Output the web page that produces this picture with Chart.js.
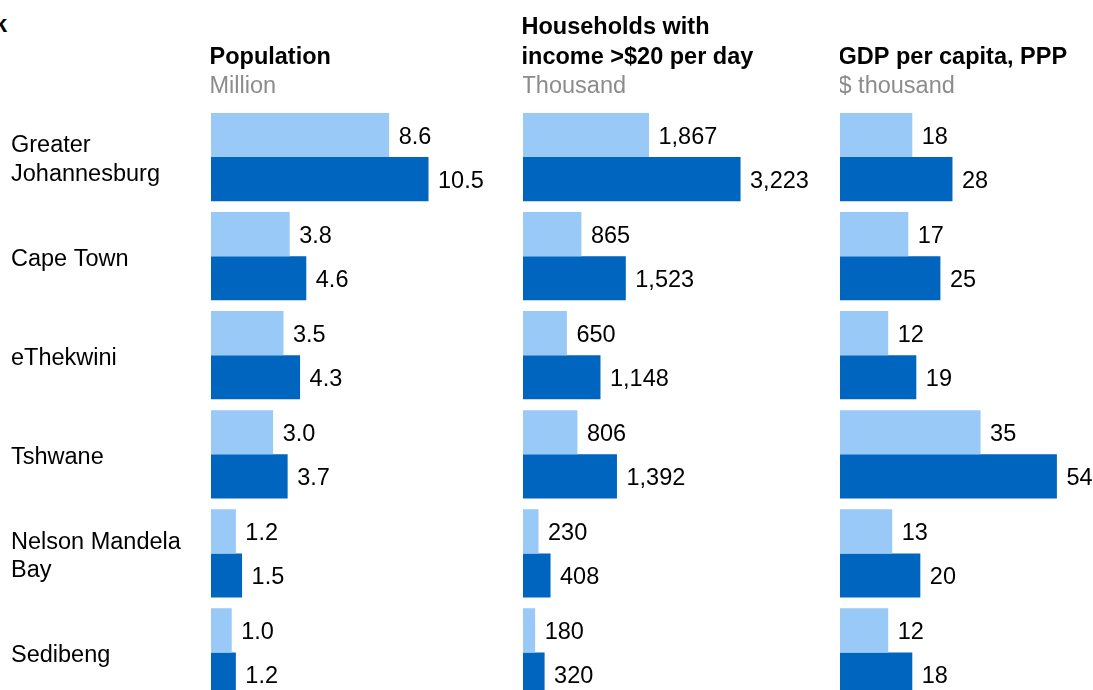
<!DOCTYPE html>
<html>
<head>
<meta charset="utf-8">
<script src="https://cdn.jsdelivr.net/npm/chart.js@4"></script>
<style>
    html, body { margin: 0; padding: 0; background: #fff; overflow: hidden; }
    body { width: 1093px; height: 690px; position: relative; }
    canvas { position: absolute; top: 0; }
    #corner { position: absolute; left: -6px; top: 11px; font: bold 23.5px "Liberation Sans", Arial, sans-serif; }
</style>
</head>
<body>
<div id="corner">k</div>
<canvas id="chart-pop" width="501" height="702" style="left:0px"></canvas>
<canvas id="chart-hh" width="310" height="702" style="left:523px"></canvas>
<canvas id="chart-gdp" width="253" height="702" style="left:840px"></canvas>
<script>
const cities = [
    ['Greater', 'Johannesburg'],
    'Cape Town',
    'eThekwini',
    'Tshwane',
    ['Nelson Mandela', 'Bay'],
    'Sedibeng',
];

const popEarlier = [8.6, 3.8, 3.5, 3.0, 1.2, 1.0];
const popLater = [10.5, 4.6, 4.3, 3.7, 1.5, 1.2];

const hhEarlier = [1867, 865, 650, 806, 230, 180];
const hhLater = [3223, 1523, 1148, 1392, 408, 320];

const gdpEarlier = [18, 17, 12, 35, 13, 12];
const gdpLater = [28, 25, 19, 54, 20, 18];

const lightBlue = '#99c9f7';
const darkBlue = '#0065bf';
const fontFamily = '"Liberation Sans", Arial, sans-serif';

// draws the value next to the end of each bar
const valueLabels = {
    id: 'valueLabels',
    afterDatasetsDraw(chart, args, opts) {
        const ctx = chart.ctx;
        ctx.save();
        ctx.font = '23.5px ' + fontFamily;
        ctx.fillStyle = '#000';
        ctx.textAlign = 'left';
        ctx.textBaseline = 'middle';
        chart.data.datasets.forEach((ds, i) => {
            chart.getDatasetMeta(i).data.forEach((bar, j) => {
                ctx.fillText(opts.format(ds.data[j]), bar.x + 9.5, bar.y + 2.5);
            });
        });
        ctx.restore();
    }
};

// panel heading: bold title lines plus grey unit line
const panelHeader = {
    id: 'panelHeader',
    afterDraw(chart, args, opts) {
        const ctx = chart.ctx;
        const x = chart.chartArea.left - 1.5;
        ctx.save();
        ctx.textAlign = 'left';
        ctx.textBaseline = 'alphabetic';
        ctx.font = 'bold 23.5px ' + fontFamily;
        ctx.fillStyle = '#000';
        let y = 63.5 - (opts.title.length - 1) * 30;
        opts.title.forEach(line => {
            ctx.fillText(line, x, y);
            y += 30;
        });
        ctx.font = '23.5px ' + fontFamily;
        ctx.fillStyle = '#8c8c8c';
        ctx.fillText(opts.unit, x, 92.5);
        ctx.restore();
    }
};

function makeConfig(earlier, later, max, title, unit, format, showCities, padRight) {
    return {
        type: 'bar',
        data: {
            labels: cities,
            datasets: [
                { label: 'Earlier', data: earlier, backgroundColor: lightBlue },
                { label: 'Later', data: later, backgroundColor: darkBlue },
            ]
        },
        options: {
            indexAxis: 'y',
            responsive: false,
            animation: false,
            devicePixelRatio: 1,
            datasets: {
                bar: { categoryPercentage: 0.89, barPercentage: 1.0 }
            },
            layout: {
                padding: { top: 107.5, bottom: 0, left: showCities ? 11 : 0, right: padRight }
            },
            scales: {
                x: {
                    display: false,
                    min: 0,
                    max: max
                },
                y: {
                    display: showCities,
                    grid: { display: false },
                    border: { display: false },
                    ticks: {
                        crossAlign: 'far',
                        padding: 0,
                        labelOffset: 3,
                        color: '#000',
                        font: { family: fontFamily, size: 23.5, lineHeight: 1.2 }
                    },
                    afterFit: scale => {
                        scale.paddingTop = 0;
                        scale.paddingBottom = 0;
                        if (showCities) {
                            scale.width = 200;
                        }
                    }
                }
            },
            plugins: {
                legend: { display: false },
                tooltip: { enabled: false },
                valueLabels: { format: format },
                panelHeader: { title: title, unit: unit }
            }
        },
        plugins: [valueLabels, panelHeader]
    };
}

let popChart = new Chart(
    document.getElementById('chart-pop'),
    makeConfig(popEarlier, popLater, 14, ['Population'], 'Million',
        v => v.toFixed(1), true, 0),
);

let hhChart = new Chart(
    document.getElementById('chart-hh'),
    makeConfig(hhEarlier, hhLater, 4000, ['Households with', 'income >$20 per day'], 'Thousand',
        v => v.toLocaleString('en-US'), false, 40),
);

let gdpChart = new Chart(
    document.getElementById('chart-gdp'),
    makeConfig(gdpEarlier, gdpLater, 60, ['GDP per capita, PPP'], '$ thousand',
        v => String(v), false, 12),
);
</script>
</body>
</html>
